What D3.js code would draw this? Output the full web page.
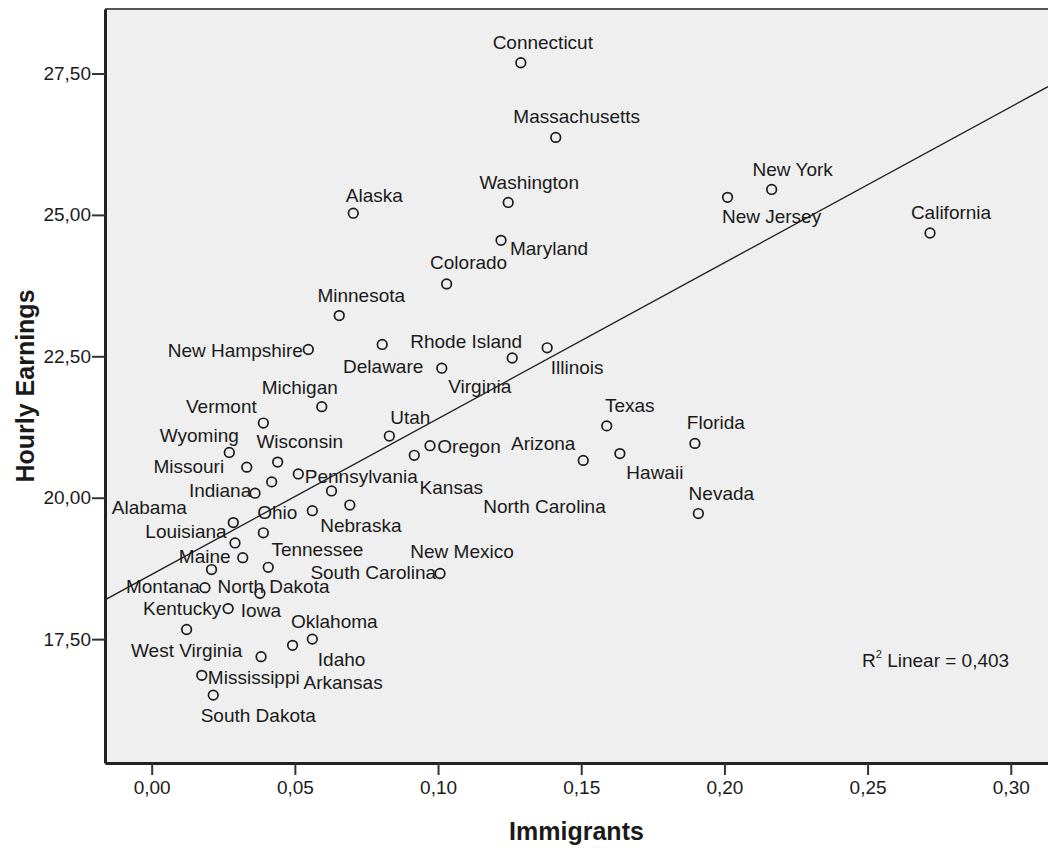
<!DOCTYPE html>
<html>
<head>
<meta charset="utf-8">
<script src="https://cdn.jsdelivr.net/npm/d3@7"></script>
<style>
  body { margin: 0; background: #fff; }
  text { font-family: "Liberation Sans", Arial, sans-serif; fill: #1a1a1a; }
</style>
</head>
<body>
<div id="chart"></div>
<script>
const states = [
  "Connecticut", "Massachusetts", "Washington", "Alaska", "Maryland", "Colorado",
  "New York", "New Jersey", "California", "Minnesota", "New Hampshire", "Delaware",
  "Rhode Island", "Illinois", "Virginia", "Michigan", "Vermont", "Utah", "Oregon",
  "Georgia", "Wyoming", "Wisconsin", "Missouri", "Indiana", "Pennsylvania", "Kansas",
  "North Carolina", "Ohio", "Nebraska", "Alabama", "Louisiana", "Tennessee", "Maine",
  "South Carolina", "North Dakota", "Montana", "Iowa", "Kentucky", "West Virginia",
  "Oklahoma", "Idaho", "Arkansas", "Mississippi", "South Dakota", "New Mexico",
  "Texas", "Arizona", "Hawaii", "Florida", "Nevada"
]
const immigrants = [
  0.1289, 0.1411, 0.1245, 0.0704, 0.1220, 0.1030,
  0.2165, 0.2011, 0.2718, 0.0655, 0.0547, 0.0805,
  0.1259, 0.1381, 0.1013, 0.0594, 0.0390, 0.0830, 0.0972,
  0.0419, 0.0271, 0.0440, 0.0332, 0.0361, 0.0512, 0.0917,
  0.0628, 0.0561, 0.0692, 0.0285, 0.0291, 0.0390, 0.0318,
  0.0407, 0.0209, 0.0186, 0.0378, 0.0267, 0.0122,
  0.0561, 0.0492, 0.0382, 0.0175, 0.0215, 0.1007,
  0.1589, 0.1507, 0.1635, 0.1897, 0.1909
]
const earnings = [
  27.69, 26.37, 25.22, 25.03, 24.55, 23.78,
  25.45, 25.31, 24.68, 23.22, 22.62, 22.71,
  22.47, 22.65, 22.29, 21.61, 21.32, 21.09, 20.92,
  20.28, 20.80, 20.63, 20.54, 20.08, 20.42, 20.75,
  20.12, 19.77, 19.87, 19.56, 19.20, 19.38, 18.94,
  18.77, 18.73, 18.41, 18.31, 18.04, 17.67,
  17.50, 17.39, 17.19, 16.86, 16.51, 18.66,
  21.27, 20.66, 20.78, 20.96, 19.72
]
const xTicks = [0, 0.05, 0.10, 0.15, 0.20, 0.25, 0.30]
const yTicks = [17.5, 20, 22.5, 25, 27.5]
const xDomain = [-0.0163, 0.3130]
const yDomain = [15.31, 28.64]
const rSquaredText = "0,403"

// where each point label sits relative to its circle (text centre, px)
const labelNudge = {
  "Connecticut": [22, -20], "Massachusetts": [21, -21], "Washington": [21, -20],
  "Alaska": [21, -18], "Maryland": [48, 8], "Colorado": [22, -21],
  "New York": [21, -20], "New Jersey": [44, 19], "California": [21, -20],
  "Minnesota": [22, -20], "New Hampshire": [-73, 1], "Delaware": [1, 22],
  "Rhode Island": [-46, -17], "Illinois": [30, 20], "Virginia": [38, 18],
  "Michigan": [-22, -19], "Vermont": [-42, -17], "Utah": [21, -19],
  "Oregon": [39, 1], "Wyoming": [-30, -17], "Wisconsin": [22, -21],
  "Missouri": [-58, -1], "Indiana": [-35, -3], "Pennsylvania": [63, 3],
  "Kansas": [37, 32], "North Carolina": [213, 16], "Ohio": [-35, 2],
  "Nebraska": [11, 20], "Alabama": [-84, -15], "Louisiana": [-49, -11],
  "Tennessee": [54, 17], "Maine": [-38, -1], "South Carolina": [105, 5],
  "North Dakota": [62, 17], "Montana": [-42, -1], "Iowa": [1, 17],
  "Kentucky": [-46, 0], "West Virginia": [0, 21], "Oklahoma": [22, -18],
  "Idaho": [49, 14], "Arkansas": [82, 26], "Mississippi": [52, 2],
  "South Dakota": [45, 20], "New Mexico": [22, -22], "Texas": [23, -20],
  "Arizona": [-40, -17], "Hawaii": [35, 19], "Florida": [21, -21], "Nevada": [23, -20]
}

const width = 1048,
      height = 848,
      margin = {top: 9, right: 0, bottom: 85, left: 105}

const data = states.map((s, i) => ({state: s, x: immigrants[i], y: earnings[i]}))

let x = d3.scaleLinear()
    .domain(xDomain)
    .range([margin.left, width - margin.right])

let y = d3.scaleLinear()
    .domain(yDomain)
    .range([height - margin.bottom, margin.top])

// least squares fit line
const mx = d3.mean(data, d => d.x), my = d3.mean(data, d => d.y)
const slope = d3.sum(data, d => (d.x - mx) * (d.y - my)) / d3.sum(data, d => (d.x - mx) ** 2)
const intercept = my - slope * mx

const svg = d3.select("#chart")
  .append("svg")
  .attr("width", width)
  .attr("height", height)

svg.append("defs").append("clipPath").attr("id", "plot")
  .append("rect")
  .attr("x", margin.left).attr("y", margin.top)
  .attr("width", width - margin.left - margin.right)
  .attr("height", height - margin.top - margin.bottom)

svg.append("rect")
  .attr("x", margin.left).attr("y", margin.top)
  .attr("width", width - margin.left - margin.right)
  .attr("height", height - margin.top - margin.bottom)
  .attr("fill", "#efefef")

// top frame line
svg.append("line")
  .attr("x1", margin.left).attr("x2", width)
  .attr("y1", margin.top).attr("y2", margin.top)
  .attr("stroke", "#555").attr("stroke-width", 2)

let xAxis = g => g
    .attr("transform", `translate(0,${height - margin.bottom})`)
    .call(d3.axisBottom(x).tickValues(xTicks).tickFormat(d => d3.format(".2f")(d).replace(".", ","))
      .tickSize(12).tickSizeOuter(0).tickPadding(6))
    .call(g => g.select(".domain").attr("stroke", "#222").attr("stroke-width", 3))
    .call(g => g.selectAll(".tick line").attr("stroke", "#333").attr("stroke-width", 2))
    .call(g => g.selectAll(".tick text").attr("font-size", 19).attr("fill", "#333"))

let yAxis = g => g
    .attr("transform", `translate(${margin.left},0)`)
    .call(d3.axisLeft(y).tickValues(yTicks).tickFormat(d => d3.format(".2f")(d).replace(".", ","))
      .tickSize(13).tickSizeOuter(0).tickPadding(1))
    .call(g => g.select(".domain").attr("stroke", "#222").attr("stroke-width", 3))
    .call(g => g.selectAll(".tick line").attr("stroke", "#333").attr("stroke-width", 2))
    .call(g => g.selectAll(".tick text").attr("font-size", 19).attr("fill", "#333"))

svg.append("g").call(xAxis)
svg.append("g").call(yAxis)

svg.append("line")
  .attr("clip-path", "url(#plot)")
  .attr("x1", x(xDomain[0])).attr("y1", y(intercept + slope * xDomain[0]))
  .attr("x2", x(xDomain[1])).attr("y2", y(intercept + slope * xDomain[1]))
  .attr("stroke", "#222")
  .attr("stroke-width", 1.4)

svg.append("g")
  .selectAll("circle")
  .data(data)
  .join("circle")
    .attr("cx", d => x(d.x))
    .attr("cy", d => y(d.y))
    .attr("r", 4.8)
    .attr("fill", "none")
    .attr("stroke", "#1a1a1a")
    .attr("stroke-width", 1.7)

svg.append("g")
  .selectAll("text")
  .data(data.filter(d => labelNudge[d.state]))
  .join("text")
    .attr("x", d => x(d.x) + labelNudge[d.state][0])
    .attr("y", d => y(d.y) + labelNudge[d.state][1])
    .attr("text-anchor", "middle")
    .attr("dominant-baseline", "central")
    .attr("font-size", 19)
    .text(d => d.state)

const r2 = svg.append("text")
  .attr("x", 862).attr("y", 660)
  .attr("dominant-baseline", "central")
  .attr("font-size", 19)
r2.append("tspan").text("R")
r2.append("tspan").attr("font-size", 11).attr("dy", -6).text("2")
r2.append("tspan").attr("dy", 6).text(" Linear = " + rSquaredText)

svg.append("text")
  .attr("x", (margin.left + width) / 2)
  .attr("y", 831)
  .attr("text-anchor", "middle")
  .attr("dominant-baseline", "central")
  .attr("font-size", 25)
  .attr("font-weight", "bold")
  .text("Immigrants")

svg.append("text")
  .attr("transform", `translate(25,${(margin.top + height - margin.bottom) / 2}) rotate(-90)`)
  .attr("text-anchor", "middle")
  .attr("dominant-baseline", "central")
  .attr("font-size", 25)
  .attr("font-weight", "bold")
  .text("Hourly Earnings")
</script>
</body>
</html>
